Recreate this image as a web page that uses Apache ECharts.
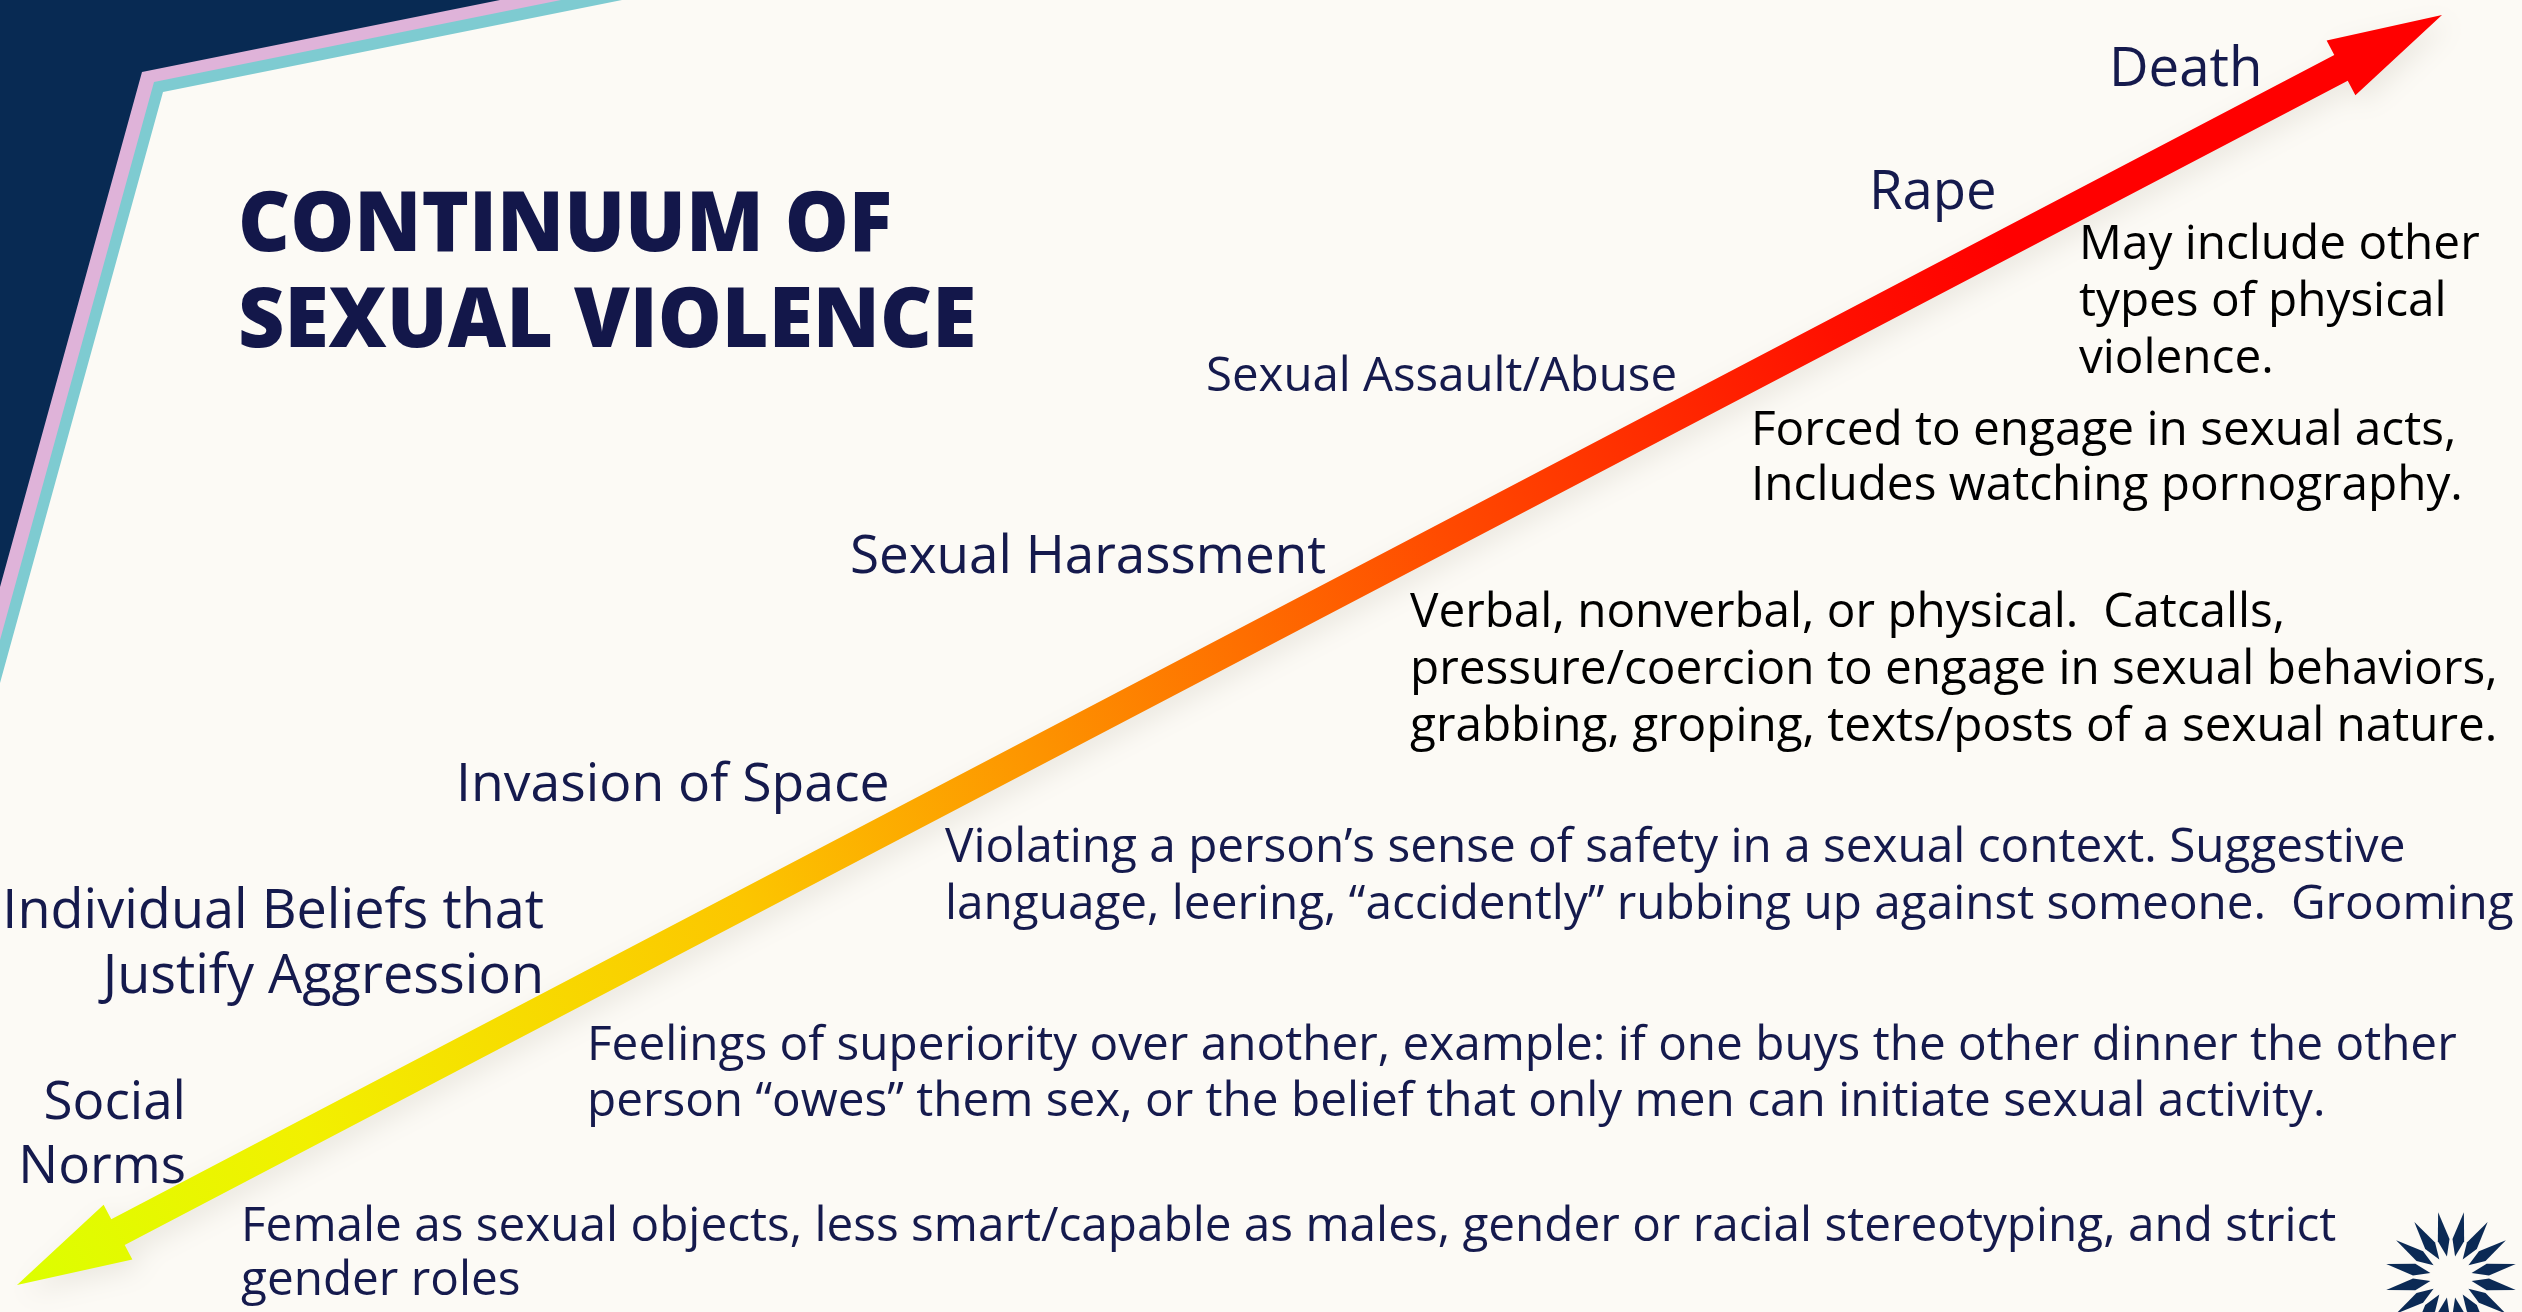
<!DOCTYPE html>
<html>
<head>
<meta charset="utf-8">
<title>Continuum of Sexual Violence</title>
<script src="https://cdn.jsdelivr.net/npm/echarts@6/dist/echarts.min.js"></script>
<style>
html, body { margin: 0; padding: 0; background: #fcfaf5; }
#container { width: 2522px; height: 1312px; }
</style>
</head>
<body>
<div id="container"></div>
<script>
// ---- content ----
var titleLines = ['CONTINUUM OF', 'SEXUAL VIOLENCE'];

// stages, from least to most severe
var stageNames = [
    ['Social', 'Norms'],
    ['Individual Beliefs that', 'Justify Aggression'],
    ['Invasion of Space'],
    ['Sexual Harassment'],
    ['Sexual Assault/Abuse'],
    ['Rape'],
    ['Death']
];
var stageNotes = [
    ['Female as sexual objects, less smart/capable as males, gender or racial stereotyping, and strict', 'gender roles'],
    ['Feelings of superiority over another, example: if one buys the other dinner the other', 'person \u201cowes\u201d them sex, or the belief that only men can initiate sexual activity.'],
    ['Violating a person\u2019s sense of safety in a sexual context. Suggestive', 'language, leering, \u201caccidently\u201d rubbing up against someone.  Grooming'],
    ['Verbal, nonverbal, or physical.  Catcalls,', 'pressure/coercion to engage in sexual behaviors,', 'grabbing, groping, texts/posts of a sexual nature.'],
    ['Forced to engage in sexual acts,', 'Includes watching pornography.'],
    ['May include other', 'types of physical', 'violence.'],
    []
];

// the continuum arrow: severity 0 (tail) -> 100 (head)
var continuum = [[0, 0, 100, 100]];
var severityStops = [0, 0.12, 0.3, 0.42, 0.59, 0.75, 0.82, 1];
var severityColors = ['#dcff00', '#f2f000', '#fcc600', '#fd9400', '#ff4a00', '#ff1000', '#ff0000', '#ff0000'];

// ---- layout ----
var NAVY = '#151a4d';
var FONT = '"Open Sans", "Noto Sans", sans-serif';
var stageLayout = [
    {x: 186, y: 1118, gap: 64, size: 53, align: 'right'},
    {x: 544, y: 927, gap: 65, size: 54, align: 'right'},
    {x: 456, y: 800, gap: 0, size: 53.5, align: 'left'},
    {x: 850, y: 572, gap: 0, size: 53, align: 'left'},
    {x: 1206, y: 390, gap: 0, size: 47.4, align: 'left'},
    {x: 1869, y: 208, gap: 0, size: 54.4, align: 'left'},
    {x: 2109, y: 85, gap: 0, size: 54.6, align: 'left'}
];
var noteLayout = [
    {x: 241, y: 1240, gap: 54, size: 47.7, color: NAVY},
    {x: 587, y: 1059, gap: 56, size: 47.7, color: NAVY},
    {x: 945, y: 861, gap: 57, size: 47.7, color: NAVY},
    {x: 1410, y: 626, gap: 57, size: 47.7, color: '#000'},
    {x: 1751, y: 444, gap: 55, size: 47.7, color: '#000'},
    {x: 2079, y: 258, gap: 57, size: 47.7, color: '#000'},
    null
];

function textLines(lines, lay, color, weight, sx) {
    var out = [];
    for (var i = 0; i < lines.length; i++) {
        out.push({
            type: 'text',
            x: lay.x,
            y: lay.y + i * lay.gap - 0.27 * lay.size,
            scaleX: sx || 1,
            z: 10,
            silent: true,
            style: {
                text: lines[i],
                font: (weight || 'normal') + ' ' + lay.size + 'px ' + FONT,
                fill: color,
                align: lay.align || 'left',
                verticalAlign: 'middle'
            }
        });
    }
    return out;
}

var graphics = [];
// corner decoration
graphics.push({type: 'polygon', z: 1, silent: true, shape: {points: [[0, 0], [622, 0], [163, 92], [0, 683]]}, style: {fill: '#7ecbd1'}});
graphics.push({type: 'polygon', z: 2, silent: true, shape: {points: [[0, 0], [561, 0], [154, 82], [0, 640]]}, style: {fill: '#dfb3d9'}});
graphics.push({type: 'polygon', z: 3, silent: true, shape: {points: [[0, 0], [500, 0], [142, 72], [0, 587]]}, style: {fill: '#082a53'}});

// title
graphics = graphics.concat(textLines([titleLines[0]], {x: 238, y: 250, gap: 0, size: 84}, '#13174a', '800', 0.958));
graphics = graphics.concat(textLines([titleLines[1]], {x: 238, y: 346, gap: 0, size: 84}, '#13174a', '800', 0.958));

for (var s = 0; s < stageNames.length; s++) {
    graphics = graphics.concat(textLines(stageNames[s], stageLayout[s], NAVY));
    if (noteLayout[s]) {
        graphics = graphics.concat(textLines(stageNotes[s], noteLayout[s], noteLayout[s].color));
    }
}

// starburst logo (bottom right)
var cx = 2451, cy = 1277;
for (var k = 0; k < 16; k++) {
    var ang = (11.25 + k * 22.5) * Math.PI / 180;
    var pt = function (r, da) {
        var a2 = ang + da * Math.PI / 180;
        return [cx + r * Math.sin(a2), cy - r * Math.cos(a2)];
    };
    graphics.push({
        type: 'polygon', z: 5, silent: true,
        shape: {points: [pt(21, 0), pt(38, 9), pt(66, 0), pt(38, -9)]},
        style: {fill: '#0b2a55'}
    });
}

var dom = document.getElementById('container');
var myChart = echarts.init(dom);
var option = {
    backgroundColor: '#fcfaf5',
    animation: false,
    grid: {left: 17, right: 80, top: 15, bottom: 27},
    xAxis: {type: 'value', min: 0, max: 100, show: false},
    yAxis: {type: 'value', min: 0, max: 100, show: false},
    graphic: graphics,
    series: [{
        type: 'custom',
        coordinateSystem: 'cartesian2d',
        silent: true,
        clip: false,
        z: 4,
        encode: {x: [0, 2], y: [1, 3]},
        data: continuum,
        renderItem: function (params, api) {
            var a = api.coord([api.value(0), api.value(1)]);
            var b = api.coord([api.value(2), api.value(3)]);
            var dx = b[0] - a[0], dy = b[1] - a[1];
            var len = Math.sqrt(dx * dx + dy * dy);
            var ux = dx / len, uy = dy / len;
            var nx = -uy, ny = ux;
            var H = 114, W = 31, w = 14.5;
            function p(base, along, side) {
                return [base[0] + ux * along + nx * side, base[1] + uy * along + ny * side];
            }
            var pts = [
                a, p(a, H, W), p(a, H, w), p(b, -H, w), p(b, -H, W),
                b, p(b, -H, -W), p(b, -H, -w), p(a, H, -w), p(a, H, -W)
            ];
            var stops = [];
            for (var i = 0; i < severityStops.length; i++) {
                stops.push({offset: severityStops[i], color: severityColors[i]});
            }
            return {
                type: 'polygon',
                shape: {points: pts},
                style: {
                    fill: new echarts.graphic.LinearGradient(a[0], a[1], b[0], b[1], stops, true),
                    shadowBlur: 26,
                    shadowColor: 'rgba(80,70,40,0.10)',
                    shadowOffsetX: 8,
                    shadowOffsetY: 8
                }
            };
        }
    }]
};
if (option && typeof option === "object") {
    myChart.setOption(option, true);
}
</script>
</body>
</html>
